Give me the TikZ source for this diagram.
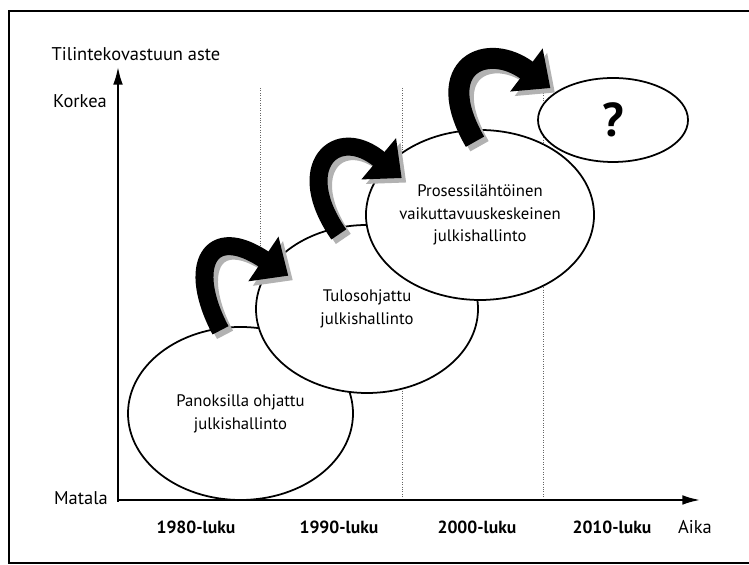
\documentclass[tikz,border=0pt]{standalone}
\usepackage{fontspec}
\setmainfont{PT Sans}
\usetikzlibrary{shapes.geometric,arrows.meta}

\tikzstyle{era} = [ellipse,draw,line width=1pt,fill=white,inner sep=0pt,align=center,font=\fontsize{9.5}{13}\selectfont]
\tikzstyle{axis} = [draw,line width=1.1pt,->,>={Latex[length=10pt,width=5.5pt]}]
\tikzstyle{decade line} = [draw,densely dotted,black!60,thin]
\tikzstyle{decade} = [font=\bfseries\fontsize{10}{12}\selectfont]
\tikzstyle{big arrow} = [draw,-{Triangle[length=0.6cm,width=1.04cm]}]
\tikzstyle{arrow shadow} = [big arrow,black!30,transform canvas={xshift=0.09cm,yshift=-0.09cm}]

\begin{document}
\begin{tikzpicture}[font=\fontsize{10.5}{12}\selectfont]
\useasboundingbox (0,0) rectangle (14.98,11.3);
\draw[line width=1pt] (15.2,11.08) -| (0.18,0.04) -- (15.2,0.04);

% decades
\foreach \x in {5.2,8.04,10.86}
  \draw[decade line] (\x,9.54) -- (\x,1.3);
\foreach \x/\name in {3.92/1980, 6.78/1990, 9.54/2000, 12.24/2010}
  \node[decade] (d\name) at (\x,0.76) {\name-luku};

% axes
\coordinate (origin) at (2.36,1.30);
\coordinate (ybottom) at (2.36,1.26);
\coordinate (ytop) at (2.36,9.96);
\coordinate (xend) at (14.0,1.30);
\path[axis] (ybottom) -- (ytop);
\path[axis] (origin) -- (xend);
\node (yname) at (2.72,10.22) {Tilintekovastuun aste};
\node (high) at (1.60,9.28) {Korkea};
\node (low) at (1.62,1.34) {Matala};
\node (xname) at (13.9,0.76) {Aika};

% eras
\node[era,minimum width=4.50cm,minimum height=3.46cm] (e1) at (4.81,3.03) {Panoksilla ohjattu\\julkishallinto};
\node[era,minimum width=4.44cm,minimum height=3.36cm] (e2) at (7.34,5.12) {Tulosohjattu\\julkishallinto};
\node[era,minimum width=4.32cm,minimum height=3.40cm] (e3) at (9.60,7.00) {Prosessilähtöinen\\vaikuttavuuskeskeinen\\julkishallinto};
\node[era,minimum width=3.0cm,minimum height=1.68cm,font=\bfseries\fontsize{27}{30}\selectfont] (e4) at (12.26,8.90) {?};

% shifts between eras
\foreach \source/\dest/\o/\i/\od/\id/\wd/\pre/\post in {
    e1.104/e2.155/118/146/1.4/1.5/0.36/0.06/-0.4,
    e2.112/e3.152/125/140/1.5/1.3/0.36/0.16/-0.4,
    e3.98/e4.154/120/143/1.5/1.7/0.42/0.28/0.13}{
  \path[arrow shadow,line width=\wd cm,shorten <=-\pre cm,shorten >=\post cm]
    (\source) to[out=\o,in=\i,out distance=\od cm,in distance=\id cm] (\dest);
  \path[big arrow,line width=\wd cm,shorten <=-\pre cm,shorten >=\post cm]
    (\source) to[out=\o,in=\i,out distance=\od cm,in distance=\id cm] (\dest);
}
\end{tikzpicture}
\end{document}
